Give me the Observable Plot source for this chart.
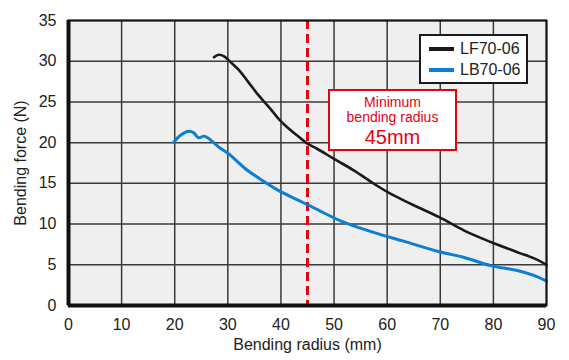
<!DOCTYPE html>
<html>
<head>
<meta charset="utf-8">
<script src="https://cdn.jsdelivr.net/npm/d3@7"></script>
<script src="https://cdn.jsdelivr.net/npm/@observablehq/plot@0.6"></script>
<style>
  body { margin: 0; background: #fff; font-family: "Liberation Sans", Arial, sans-serif; }
  #wrap { position: relative; width: 569px; height: 360px; }
  .legend { position: absolute; left: 419px; top: 34px; width: 105px; height: 46px; border: 2px solid #1a1a1a; background: #fff; box-sizing: content-box; }
  .legend .row { position: absolute; left: 8px; display: flex; align-items: center; font-size: 16px; color: #222; }
  .legend .sw { width: 25px; height: 4px; margin-right: 6px; }
  .note { position: absolute; left: 328px; top: 89px; width: 125px; height: 58px; border: 2.5px solid #e60012; background: #fff; color: #e60012; text-align: center; box-sizing: content-box; }
</style>
</head>
<body>
<div id="wrap"></div>
<script>
const xTicks = [0, 10, 20, 30, 40, 50, 60, 70, 80, 90];
const yTicks = [0, 5, 10, 15, 20, 25, 30, 35];
const seriesNames = ["LF70-06", "LB70-06"];
const seriesColors = ["#1a1a1a", "#0a7fd4"];
const minRadius = 45;

const lfR = [27.4, 28.3, 29.3, 30.5, 32.1, 33.9, 35.8, 37.7, 39.6, 41.5, 43.4, 44.9, 46.8, 50.0, 53.7, 57.5, 60.7, 64.4, 69.8, 74.5, 79.5, 84.5, 88, 90];
const lfF = [30.5, 30.8, 30.6, 29.9, 28.9, 27.4, 25.8, 24.4, 22.9, 21.7, 20.7, 19.9, 19.25, 18.0, 16.6, 14.95, 13.7, 12.5, 10.85, 9.2, 7.8, 6.55, 5.7, 5.0];
const lbR = [19.8, 21.1, 22.6, 23.6, 24.5, 25.5, 26.4, 28.3, 30.2, 33.3, 36.5, 39.6, 42.7, 45.9, 47.4, 51.2, 55.0, 58.8, 63.1, 69.8, 74.5, 79.5, 84.5, 87.6, 90];
const lbF = [20.05, 20.9, 21.4, 21.2, 20.6, 20.8, 20.5, 19.45, 18.6, 16.8, 15.35, 14.1, 13.1, 12.1, 11.6, 10.4, 9.5, 8.7, 7.9, 6.6, 5.9, 4.9, 4.3, 3.7, 3.0];

const lf = lfR.map((r, i) => ({r, f: lfF[i]}));
const lb = lbR.map((r, i) => ({r, f: lbF[i]}));

const chart = Plot.plot({
  width: 569,
  height: 360,
  marginLeft: 68,
  marginRight: 23,
  marginTop: 20,
  marginBottom: 55,
  style: { fontFamily: "Liberation Sans, Arial, sans-serif", fontSize: "16px", color: "#222", background: "transparent" },
  x: { domain: [0, 90] },
  y: { domain: [0, 35] },
  marks: [
    Plot.frame({ fill: "#efefef", stroke: null }),
    Plot.gridX(xTicks, { stroke: "#3a3a3a", strokeOpacity: 1, strokeWidth: 1.5 }),
    Plot.gridY(yTicks, { stroke: "#3a3a3a", strokeOpacity: 1, strokeWidth: 1.5 }),
    Plot.ruleX([minRadius], { stroke: "#e60012", strokeWidth: 3, strokeDasharray: "9,5" }),
    Plot.line(lb, { x: "r", y: "f", stroke: seriesColors[1], strokeWidth: 3, curve: "catmull-rom" }),
    Plot.line(lf, { x: "r", y: "f", stroke: seriesColors[0], strokeWidth: 2.6, curve: "catmull-rom" }),
    Plot.frame({ stroke: "#111", strokeWidth: 2 }),
    Plot.ruleX([0], { stroke: "#111", strokeWidth: 4 }),
    Plot.ruleY([0], { stroke: "#111", strokeWidth: 4 }),
    Plot.axisX(xTicks, { tickSize: 0, tickPadding: 13, fontSize: 16, label: "Bending radius (mm)", labelAnchor: "center", labelArrow: "none", labelOffset: 44 }),
    Plot.axisY(yTicks, { tickSize: 0, tickPadding: 12, fontSize: 16, label: "Bending force (N)", labelAnchor: "center", labelArrow: "none", labelOffset: 54 })
  ]
});
const wrap = document.getElementById("wrap");
wrap.appendChild(chart);

const legend = document.createElement("div");
legend.className = "legend";
seriesNames.forEach((name, i) => {
  const row = document.createElement("div");
  row.className = "row";
  row.style.top = (i === 0 ? 4 : 25) + "px";
  row.innerHTML = `<span class="sw" style="background:${seriesColors[i]}"></span><span>${name}</span>`;
  legend.appendChild(row);
});
wrap.appendChild(legend);

const note = document.createElement("div");
note.className = "note";
note.innerHTML = `<div style="font-size:14px;line-height:15px;margin-top:4px">Minimum</div><div style="font-size:14px;line-height:15px">bending radius</div><div style="font-size:20px;line-height:25px">${minRadius}mm</div>`;
wrap.appendChild(note);
</script>
</body>
</html>
